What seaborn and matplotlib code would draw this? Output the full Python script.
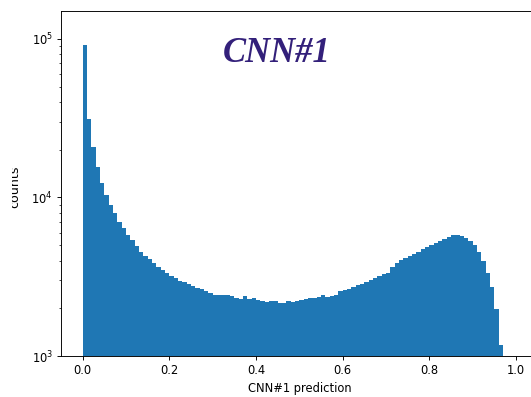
import numpy as np
import pandas as pd
import matplotlib
matplotlib.use("Agg")
import matplotlib.pyplot as plt
from matplotlib.transforms import Bbox
import seaborn as sns

# Histogram of CNN#1 prediction scores: 100 bins of width 0.01 over [0, 1]
bin_width = 0.01
n_bins = 100
counts = [
    91600, 31100, 20700, 15600, 12300, 10400, 8970, 8020, 7040, 6390,
    5800, 5400, 4940, 4550, 4280, 4080, 3850, 3660, 3490, 3330,
    3200, 3090, 2990, 2920, 2850, 2780, 2700, 2640, 2580, 2490,
    2430, 2430, 2420, 2410, 2390, 2330, 2280, 2390, 2280, 2315,
    2256, 2230, 2200, 2230, 2230, 2150, 2150, 2220, 2200, 2220,
    2256, 2280, 2315, 2330, 2370, 2410, 2360, 2380, 2420, 2570,
    2600, 2630, 2740, 2800, 2850, 2940, 3010, 3100, 3200, 3290,
    3330, 3620, 3880, 4020, 4140, 4250, 4420, 4550, 4700, 4850,
    5000, 5180, 5350, 5480, 5620, 5780, 5800, 5720, 5560, 5300,
    5000, 4550, 3950, 3350, 2720, 1970, 1165, 420, 110, 15,
]
x_label = "CNN#1 prediction"
y_label = "counts"
title = "CNN#1"

centers = (np.arange(n_bins) + 0.5) * bin_width
df = pd.DataFrame({"prediction": centers, "count": counts})

fig = plt.figure(figsize=(531 / 83, 397 / 83), dpi=83)
ax = fig.add_axes([60.9 / 531, 41 / 397, 476.9 / 531, 345 / 397])

sns.histplot(
    data=df, x="prediction", weights="count", bins=n_bins,
    binrange=(0, n_bins * bin_width),
    color="#1f77b4", alpha=1.0, linewidth=0, edgecolor="none", ax=ax,
)
ax.set_yscale("log")
ax.set_ylim(1e3, 1.5e5)
ax.set_xlim(-0.05, 1.05)
ax.set_xticks([0.0, 0.2, 0.4, 0.6, 0.8, 1.0])
ax.set_xlabel(x_label, fontsize=10)
ax.set_ylabel(y_label, fontsize=11)
ax.yaxis.set_label_coords(-0.0835, 0.49)

# the panel is cut at its left edge, so the y label is only partly shown
ylab = ax.yaxis.label
ylab.set_clip_on(True)
ylab.set_clip_box(Bbox.from_extents(12, 0, 531, 397))

ax.text(0.453, 0.852, title, transform=ax.transAxes, ha="center", va="baseline",
        fontsize=30, fontweight="bold", fontstyle="italic",
        family="Liberation Serif", color="#33207a")

fig.savefig("out.png", dpi=83)
